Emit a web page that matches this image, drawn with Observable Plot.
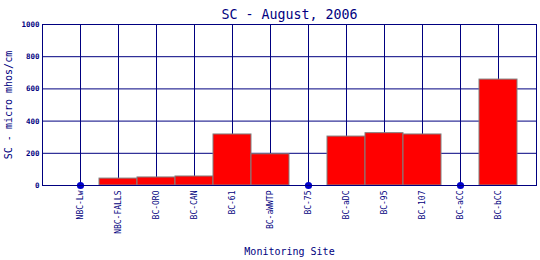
<!DOCTYPE html>
<html>
<head>
<meta charset="utf-8">
<script src="https://cdn.jsdelivr.net/npm/d3@7"></script>
<script src="https://cdn.jsdelivr.net/npm/@observablehq/plot@0.6"></script>
<style>
  html, body { margin: 0; padding: 0; background: #fff; }
</style>
</head>
<body>
<div id="chart"></div>
<script>
const sites = ["NBC-Lw","NBC-FALLS","BC-ORO","BC-CAN","BC-61","BC-aWWTP","BC-75","BC-aDC","BC-95","BC-107","BC-aCC","BC-bCC"];
const values = [0, 43, 50, 56, 317, 194, 0, 304, 325, 317, 0, 658];
const yTicks = [0, 200, 400, 600, 800, 1000];
const title = "SC - August, 2006";
const yLabel = "SC - micro mhos/cm";
const xLabel = "Monitoring Site";

const data = sites.map((s, i) => ({site: s, value: values[i]}));
const navy = "#000080";
const mono = "'DejaVu Sans Mono', monospace";

const chart = Plot.plot({
  width: 540,
  height: 260,
  marginLeft: 42,
  marginRight: 4,
  marginTop: 24,
  marginBottom: 75,
  style: {background: "#fff", fontFamily: mono, color: navy},
  x: {type: "band", domain: sites, paddingInner: 0, paddingOuter: 0.5, align: 0.5},
  y: {domain: [0, 1000]},
  marks: [
    Plot.ruleY(yTicks, {y: d => d, stroke: navy, strokeWidth: 1}),
    Plot.ruleX(sites, {x: d => d, stroke: navy, strokeWidth: 1}),
    Plot.barY(data.filter(d => d.value > 0), {x: "site", y: "value", fill: "#ff0000", stroke: "#808080", strokeWidth: 1, inset: 0}),
    Plot.dot(data.filter(d => d.value === 0), {x: "site", y: "value", r: 3.6, fill: "#0000cc", stroke: "none"}),
    Plot.frame({stroke: navy, strokeWidth: 1}),
    Plot.axisY({ticks: yTicks, tickFormat: d => String(d), tickSize: 0, tickPadding: 3, fontSize: 7.5, fontWeight: "bold", fill: navy, label: null, fontFamily: mono}),
    Plot.axisX({tickSize: 0, tickPadding: 5, tickRotate: -90, fontSize: 8, fill: navy, label: null, fontFamily: mono}),
    Plot.text([title], {text: d => d, frameAnchor: "top", dy: -15, fontSize: 13.3, fill: navy, fontFamily: mono}),
    Plot.text([yLabel], {text: d => d, frameAnchor: "left", textAnchor: "middle", dx: -34, rotate: -90, fontSize: 10, fill: navy, fontFamily: mono}),
    Plot.text([xLabel], {text: d => d, frameAnchor: "bottom", dy: 69, fontSize: 10, fill: navy, fontFamily: mono})
  ]
});
document.getElementById("chart").appendChild(chart);
</script>
</body>
</html>
